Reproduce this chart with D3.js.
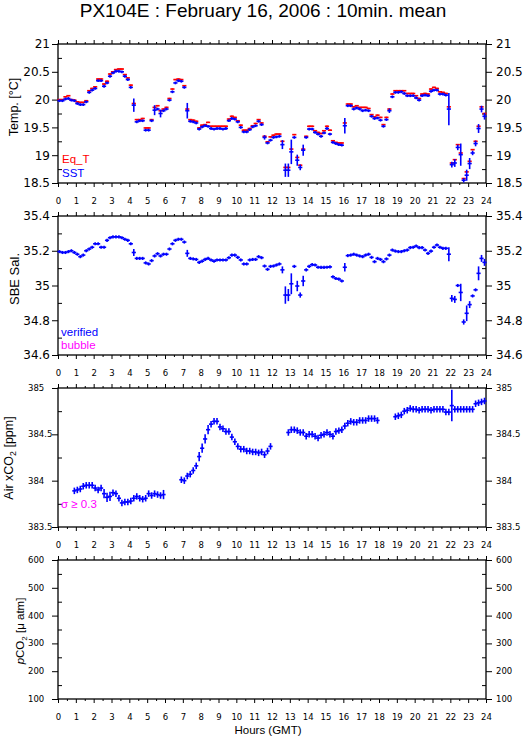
<!DOCTYPE html>
<html>
<head>
<meta charset="utf-8">
<script src="https://cdn.jsdelivr.net/npm/d3@7"></script>
<style>
  body { margin: 0; background: #fff; }
  svg { display: block; }
</style>
</head>
<body>
<svg id="chart" width="529" height="739"></svg>
<script>
// 10-minute means, index i covers hours [i/6, (i+1)/6]
var eqT = [
  20.00, 20.00, 20.05, 20.07, 20.00, 19.99, 19.96, 19.95, 19.95, 19.98, 20.16, 20.20,
  20.23, 20.37, 20.37, 20.28, 20.33, 20.46, 20.50, 20.54, 20.55, 20.55, 20.45, 20.39,
  20.26, 19.93, 19.64, 19.64, 19.66, 19.49, 19.49, 19.64, 19.86, 19.89, 19.80, 19.83,
  19.86, 20.02, 20.19, 20.36, 20.37, 20.36, 20.25, 19.83, 19.64, 19.63, 19.61, 19.49,
  19.54, 19.55, 19.59, 19.52, 19.52, 19.52, 19.52, 19.52, 19.52, 19.65, 19.70, 19.68,
  19.62, 19.54, 19.45, 19.45, 19.48, 19.53, 19.57, 19.64, 19.58, 19.34, 19.24, 19.33,
  19.36, 19.38, 19.38, 19.25, 18.78, 18.78, 19.11, 19.37, 18.96, 18.82, 19.11, 19.34,
  19.52, 19.52, 19.44, 19.41, 19.39, 19.44, 19.52, 19.45, 19.26, 19.23, 19.22, 19.22,
  19.58, 19.92, 19.92, 19.87, 19.89, 19.86, 19.86, 19.86, 19.84, 19.73, 19.69, 19.72,
  19.68, 19.55, 19.68, 19.83, 20.10, 20.16, 20.16, 20.16, 20.16, 20.11, 20.11, 20.11,
  20.07, 20.02, 20.10, 20.11, 20.10, 20.19, 20.22, 20.20, 20.14, 20.13, 20.11, 19.87,
  18.86, 18.92, 19.19, 19.04, 18.58, 18.70, 18.89, 19.10, 19.25, 19.52, 19.87, 19.75
];
var sst = [
  19.98, 19.98, 20.01, 20.02, 19.99, 19.98, 19.93, 19.91, 19.91, 19.96, 20.13, 20.17,
  20.20, 20.34, 20.34, 20.24, 20.30, 20.42, 20.48, 20.51, 20.51, 20.50, 20.42, 20.36,
  20.22, 19.90, 19.60, 19.62, 19.62, 19.45, 19.45, 19.62, 19.81, 19.83, 19.75, 19.80,
  19.83, 19.99, 20.14, 20.30, 20.34, 20.33, 20.22, 19.80, 19.61, 19.60, 19.58, 19.47,
  19.51, 19.53, 19.52, 19.48, 19.47, 19.48, 19.48, 19.47, 19.48, 19.62, 19.66, 19.65,
  19.60, 19.50, 19.42, 19.42, 19.46, 19.51, 19.53, 19.61, 19.55, 19.32, 19.22, 19.27,
  19.32, 19.33, 19.34, 19.19, 18.73, 18.73, 19.06, 19.32, 18.91, 18.78, 19.09, 19.32,
  19.47, 19.47, 19.41, 19.38, 19.34, 19.40, 19.48, 19.38, 19.23, 19.21, 19.19, 19.18,
  19.53, 19.89, 19.89, 19.83, 19.85, 19.83, 19.80, 19.81, 19.80, 19.70, 19.66, 19.67,
  19.63, 19.52, 19.64, 19.80, 20.05, 20.13, 20.13, 20.14, 20.11, 20.07, 20.07, 20.07,
  20.03, 19.99, 20.07, 20.08, 20.07, 20.15, 20.17, 20.17, 20.10, 20.10, 20.08, 19.83,
  18.83, 18.86, 19.14, 19.01, 18.55, 18.64, 18.85, 19.04, 19.21, 19.48, 19.83, 19.70
];
var sal = [
  35.195, 35.190, 35.190, 35.195, 35.200, 35.190, 35.180, 35.166, 35.175, 35.200, 35.210, 35.220,
  35.240, 35.240, 35.220, 35.220, 35.260, 35.275, 35.280, 35.280, 35.280, 35.275, 35.266, 35.260,
  35.240, 35.190, 35.156, 35.156, 35.156, 35.130, 35.124, 35.143, 35.170, 35.183, 35.170, 35.180,
  35.180, 35.210, 35.240, 35.260, 35.266, 35.266, 35.250, 35.185, 35.156, 35.153, 35.150, 35.133,
  35.140, 35.150, 35.156, 35.147, 35.140, 35.147, 35.147, 35.147, 35.147, 35.160, 35.175, 35.175,
  35.162, 35.147, 35.124, 35.124, 35.147, 35.150, 35.150, 35.166, 35.160, 35.112, 35.093, 35.110,
  35.112, 35.118, 35.124, 35.090, 34.945, 34.945, 35.010, 35.110, 34.997, 34.945, 35.026, 35.090,
  35.110, 35.120, 35.118, 35.105, 35.104, 35.104, 35.105, 35.107, 35.050, 35.040, 35.037, 35.026,
  35.105, 35.172, 35.175, 35.180, 35.175, 35.170, 35.166, 35.175, 35.180, 35.162, 35.137, 35.156,
  35.150, 35.137, 35.153, 35.175, 35.204, 35.198, 35.195, 35.195, 35.200, 35.204, 35.218, 35.220,
  35.227, 35.218, 35.218, 35.204, 35.185, 35.198, 35.220, 35.233, 35.220, 35.214, 35.214, 35.180,
  34.926, 34.920, 35.000, 34.960, 34.790, 34.840, 34.890, 34.940, 34.975, 35.070, 35.156, 35.133
];
var airCO2 = [
  null, null, null, null, null, 383.89, 383.90, 383.91, 383.94, 383.95, 383.95, 383.95,
  383.92, 383.90, 383.92, 383.86, 383.82, 383.83, 383.87, 383.86, 383.81, 383.76, 383.77, 383.77,
  383.78, 383.81, 383.83, 383.81, 383.80, 383.81, 383.86, 383.84, 383.86, 383.85, 383.84, 383.85,
  null, null, null, null, null, 384.01, 384.00, 384.05, 384.07, 384.11, 384.16, 384.26,
  384.35, 384.45, 384.55, 384.61, 384.64, 384.64, 384.58, 384.56, 384.53, 384.53, 384.47, 384.42,
  384.37, 384.34, 384.34, 384.32, 384.32, 384.31, 384.31, 384.30, 384.31, 384.28, 384.32, 384.37,
  null, null, null, null, null, 384.52, 384.55, 384.55, 384.54, 384.52, 384.52, 384.48,
  384.50, 384.50, 384.48, 384.46, 384.49, 384.50, 384.52, 384.50, 384.48, 384.53, 384.54, 384.55,
  384.59, 384.62, 384.64, 384.63, 384.63, 384.65, 384.65, 384.65, 384.67, 384.67, 384.67, 384.65,
  null, null, null, null, null, 384.69, 384.70, 384.71, 384.75, 384.76, 384.78, 384.77,
  384.77, 384.76, 384.77, 384.77, 384.77, 384.76, 384.77, 384.77, 384.77, 384.77, 384.74, 384.74,
  384.81, 384.77, 384.77, 384.77, 384.77, 384.77, 384.77, 384.77, 384.83, 384.84, 384.85, 384.86
];

// standard deviations (half error bar); usual size plus the larger ones
var eqTsd = 0.012;
var sstSd = 0.025;
var sstSdBig = {25: 0.12, 32: 0.09, 34: 0.07, 43: 0.14, 69: 0.04, 75: 0.08, 76: 0.12, 77: 0.12, 78: 0.22,
  80: 0.10, 81: 0.05, 82: 0.10, 96: 0.14, 111: 0.04, 131: 0.29, 132: 0.05, 133: 0.07, 134: 0.05,
  135: 0.20, 136: 0.04, 137: 0.10, 138: 0.10, 139: 0.04, 140: 0.05, 141: 0.08, 142: 0.06, 143: 0.06};
var salSd = 0.009;
var salSdBig = {25: 0.02, 43: 0.02, 75: 0.02, 76: 0.05, 77: 0.035, 78: 0.06, 80: 0.03, 81: 0.015,
  82: 0.03, 96: 0.025, 131: 0.04, 132: 0.02, 133: 0.02, 135: 0.05, 136: 0.015, 137: 0.045,
  138: 0.02, 141: 0.04, 142: 0.02, 143: 0.02};
var airSd = 0.035;
var airSdBig = {15: 0.05, 16: 0.05, 17: 0.05, 35: 0.05, 47: 0.05, 48: 0.05, 49: 0.05, 50: 0.05, 132: 0.17};

var hourTicks = [0,1,2,3,4,5,6,7,8,9,10,11,12,13,14,15,16,17,18,19,20,21,22,23,24];
var halfTicks = [0.5,1.5,2.5,3.5,4.5,5.5,6.5,7.5,8.5,9.5,10.5,11.5,12.5,13.5,14.5,15.5,16.5,17.5,18.5,19.5,20.5,21.5,22.5,23.5];
var tempTicks = [18.5, 19, 19.5, 20, 20.5, 21];
var tempMinor = [18.75, 19.25, 19.75, 20.25, 20.75];
var salTicks = [34.6, 34.8, 35, 35.2, 35.4];
var salMinor = [34.7, 34.9, 35.1, 35.3];
var airTicks = [383.5, 384, 384.5, 385];
var airMinor = [383.75, 384.25, 384.75];
var pco2Ticks = [100, 200, 300, 400, 500, 600];
var pco2Minor = [150, 250, 350, 450, 550];

var svg = d3.select('#chart');
svg.append('rect').attr('width', 529).attr('height', 739).attr('fill', '#fff');

var left = 58, right = 486, ph = 139;
var x = d3.scaleLinear().domain([0, 24]).range([left, right]);
var NUM = 'DejaVu Sans, sans-serif', TXT = 'Liberation Sans, Arial, sans-serif';

svg.append('text').attr('x', 263).attr('y', 17).attr('text-anchor', 'middle')
  .attr('font-family', TXT).attr('font-size', 19).text('PX104E : February 16, 2006 : 10min. mean');

function panel(top, domain, major, minor, big) {
  var y = d3.scaleLinear().domain(domain).range([top + ph, top]);
  var g = svg.append('g');
  var bot = top + ph;

  // x ticks, pointing outward
  [[top, d3.axisTop], [bot, d3.axisBottom]].forEach(function(s, k) {
    var ax = g.append('g').attr('transform', 'translate(0,' + s[0] + ')')
      .call(s[1](x).tickValues(hourTicks).tickSize(4).tickFormat(k ? d3.format('d') : ''));
    ax.select('.domain').remove();
    ax.selectAll('text').attr('y', 21).attr('dy', null)
      .attr('font-family', NUM).attr('font-size', 8.5).attr('fill', '#000');
    var mn = g.append('g').attr('transform', 'translate(0,' + s[0] + ')')
      .call(s[1](x).tickValues(halfTicks).tickSize(2).tickFormat(''));
    mn.select('.domain').remove();
  });

  // y ticks: major outward, minor inward
  [[left, d3.axisLeft, d3.axisRight], [right, d3.axisRight, d3.axisLeft]].forEach(function(s) {
    var a = g.append('g').attr('transform', 'translate(' + s[0] + ',0)')
      .call(s[1](y).tickValues(major).tickSize(6).tickFormat(''));
    a.select('.domain').remove();
    var b = g.append('g').attr('transform', 'translate(' + s[0] + ',0)')
      .call(s[2](y).tickValues(minor).tickSize(4).tickFormat(''));
    b.select('.domain').remove();
  });
  g.selectAll('.tick line').attr('stroke', '#000').attr('stroke-width', 1);

  // tick labels
  major.forEach(function(v) {
    g.append('text').attr('x', big ? 50 : 28).attr('y', y(v)).attr('dy', '0.36em')
      .attr('text-anchor', big ? 'end' : 'start')
      .attr('font-family', NUM).attr('font-size', big ? 12 : 8.5).text(String(v));
    g.append('text').attr('x', 496).attr('y', y(v)).attr('dy', '0.36em')
      .attr('font-family', NUM).attr('font-size', big ? 12 : 8.5).text(String(v));
  });

  g.append('rect').attr('x', left).attr('y', top).attr('width', right - left).attr('height', ph)
    .attr('fill', 'none').attr('stroke', '#000').attr('stroke-width', 1.3);
  return {g: g, y: y};
}

function marks(p, vals, sd, big, color) {
  var pts = [];
  vals.forEach(function(v, i) {
    if (v === null) return;
    var e = (big && big[i] !== undefined) ? big[i] : sd;
    pts.push({i: i, v: v, e: e});
  });
  var m = p.g.append('g').attr('stroke', color).attr('stroke-width', 1.6);
  m.selectAll('line.h').data(pts).enter().append('line').attr('class', 'h')
    .attr('x1', function(d) { return x(d.i / 6) - 0.6; })
    .attr('x2', function(d) { return x((d.i + 1) / 6) + 0.6; })
    .attr('y1', function(d) { return p.y(d.v); })
    .attr('y2', function(d) { return p.y(d.v); });
  m.selectAll('line.v').data(pts).enter().append('line').attr('class', 'v')
    .attr('x1', function(d) { return x((d.i + 0.5) / 6); })
    .attr('x2', function(d) { return x((d.i + 0.5) / 6); })
    .attr('y1', function(d) { return p.y(d.v - d.e); })
    .attr('y2', function(d) { return p.y(d.v + d.e); });
}

function ylabel(xx, yy, size, parts) {
  var t = svg.append('text').attr('transform', 'translate(' + xx + ',' + yy + ') rotate(-90)')
    .attr('text-anchor', 'middle').attr('font-family', TXT).attr('font-size', size);
  parts.forEach(function(p) {
    var s = t.append('tspan').text(p.t);
    if (p.sub) s.attr('font-size', size * 0.7).attr('dy', 3);
    if (p.up) s.attr('dy', -3);
    if (p.it) s.attr('font-style', 'italic');
  });
}

var p1 = panel(44, [18.5, 21], tempTicks, tempMinor, true);
marks(p1, eqT, eqTsd, null, '#ff0000');
marks(p1, sst, sstSd, sstSdBig, '#0000ff');
p1.g.append('text').attr('x', 62).attr('y', 162.5).attr('fill', '#ff0000')
  .attr('font-family', TXT).attr('font-size', 11.5).text('Eq_T');
p1.g.append('text').attr('x', 62).attr('y', 177).attr('fill', '#0000ff')
  .attr('font-family', TXT).attr('font-size', 11.5).text('SST');
ylabel(17.5, 107, 12.5, [{t: 'Temp. [°C]'}]);

var p2 = panel(216, [34.6, 35.4], salTicks, salMinor, true);
marks(p2, sal, salSd, salSdBig, '#0000ff');
p2.g.append('text').attr('x', 61).attr('y', 336).attr('fill', '#0000ff')
  .attr('font-family', TXT).attr('font-size', 11.5).text('verified');
p2.g.append('text').attr('x', 61).attr('y', 349).attr('fill', '#ff00ff')
  .attr('font-family', TXT).attr('font-size', 11.5).text('bubble');
ylabel(19, 279, 13, [{t: 'SBE Sal.'}]);

var p3 = panel(388, [383.5, 385], airTicks, airMinor, false);
marks(p3, airCO2, airSd, airSdBig, '#0000ff');
p3.g.append('text').attr('x', 61).attr('y', 507.5).attr('fill', '#ff00ff')
  .attr('font-family', TXT).attr('font-size', 11.5).text('σ ≥ 0.3');
ylabel(12.5, 458, 12.5, [{t: 'Air xCO'}, {t: '2', sub: true}, {t: ' [ppm]', up: true}]);

var p4 = panel(560, [100, 600], pco2Ticks, pco2Minor, false);
ylabel(24, 631, 11.5, [{t: 'p', it: true}, {t: 'CO'}, {t: '2', sub: true}, {t: ' [μ atm]', up: true}]);

svg.append('text').attr('x', 268).attr('y', 734).attr('text-anchor', 'middle')
  .attr('font-family', TXT).attr('font-size', 11.5).text('Hours (GMT)');
</script>
</body>
</html>
